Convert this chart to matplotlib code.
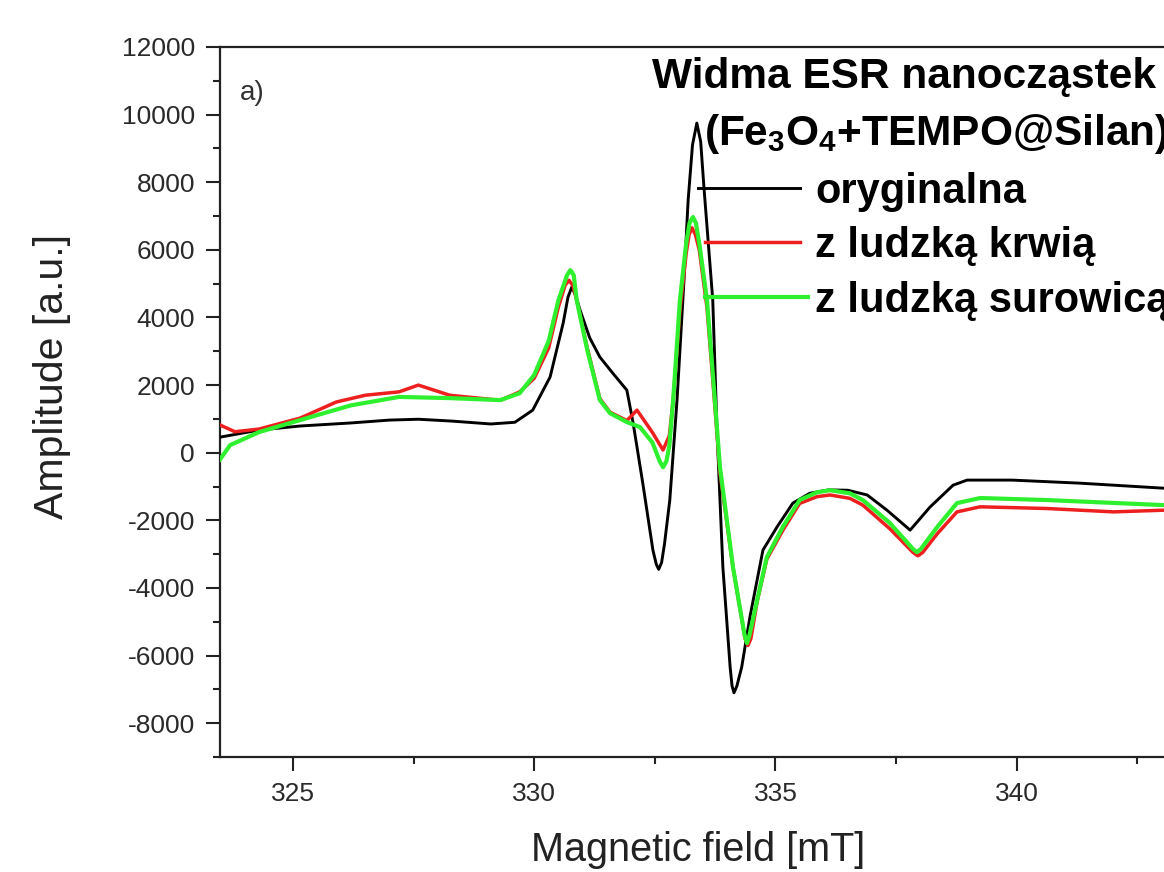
import matplotlib
matplotlib.use("Agg")
import matplotlib.pyplot as plt
from matplotlib.ticker import MultipleLocator

# ---------------- data ----------------
field_black = [323.49, 324.3, 325.15, 326.2, 327.0, 327.6, 328.3, 329.1, 329.6, 329.97,
               330.33, 330.6, 330.7, 330.78, 330.86, 330.95, 331.15, 331.36, 331.63, 331.92,
               332.05, 332.25, 332.46, 332.53, 332.58, 332.64, 332.7, 332.81, 332.96, 333.1,
               333.19, 333.28, 333.37, 333.45, 333.52, 333.7, 333.79, 333.91, 334.06, 334.1,
               334.14, 334.2, 334.3, 334.47, 334.74, 335.03, 335.36, 335.71, 336.1, 336.5,
               336.9, 337.31, 337.79, 338.2, 338.68, 338.97, 339.9, 341.3, 343.05]
amp_black = [460, 670, 790, 880, 965, 990, 935, 850, 900, 1260,
             2240, 3830, 4600, 4900, 4650, 4220, 3400, 2830, 2350, 1850,
             880, -900, -2880, -3300, -3450, -3250, -2700, -1400, 1560, 5000,
             7470, 9100, 9750, 9200, 7800, 4520, 580, -3390, -6340, -6900,
             -7100, -6900, -6340, -4860, -2880, -2200, -1490, -1200, -1100, -1110,
             -1250, -1700, -2290, -1610, -960, -810, -810, -900, -1050]

field_red = [323.49, 323.8, 324.3, 325.15, 325.9, 326.5, 327.2, 327.6, 328.25, 329.3,
             329.7, 330.0, 330.3, 330.5, 330.64, 330.72, 330.8, 330.88, 331.1, 331.36,
             331.57, 331.92, 332.13, 332.45, 332.67, 332.8, 332.88, 333.02, 333.15, 333.21,
             333.27, 333.34, 333.42, 333.58, 333.72, 333.85, 334.12, 334.37, 334.43, 334.49,
             334.62, 334.82, 335.15, 335.5, 335.86, 336.13, 336.54, 336.81, 337.37, 337.85,
             337.95, 338.05, 338.35, 338.76, 339.24, 340.62, 342.0, 343.05]
amp_red = [820, 620, 700, 1024, 1500, 1700, 1800, 2000, 1700, 1550,
           1800, 2200, 3100, 4300, 4950, 5100, 4950, 4520, 3100, 1600,
           1200, 950, 1260, 600, 80, 500, 1560, 4200, 5900, 6450,
           6650, 6450, 6000, 4300, 1800, -600, -3400, -5500, -5700, -5500,
           -4400, -3150, -2300, -1500, -1300, -1250, -1350, -1550, -2250, -2950,
           -3050, -2950, -2400, -1750, -1600, -1650, -1750, -1700]

field_green = [323.49, 323.7, 324.3, 325.15, 326.2, 327.2, 328.25, 329.3, 329.7, 330.0,
               330.3, 330.5, 330.68, 330.75, 330.82, 330.88, 331.1, 331.36, 331.57, 331.92,
               332.19, 332.45, 332.6, 332.67, 332.74, 332.8, 332.88, 333.02, 333.15, 333.22,
               333.29, 333.35, 333.42, 333.58, 333.72, 333.85, 334.12, 334.36, 334.41, 334.46,
               334.62, 334.82, 335.15, 335.5, 335.86, 336.13, 336.54, 336.81, 337.37, 337.85,
               337.93, 338.01, 338.35, 338.76, 339.24, 340.62, 343.05]
amp_green = [-200, 225, 610, 965, 1400, 1650, 1615, 1556, 1760, 2300,
             3300, 4500, 5250, 5400, 5250, 4520, 3035, 1560, 1170, 905,
             760, 300, -250, -430, -250, 200, 1560, 4520, 6200, 6800,
             6970, 6800, 6200, 4520, 2000, -430, -3390, -5400, -5630, -5400,
             -4360, -3090, -2200, -1400, -1170, -1110, -1200, -1400, -2080, -2850,
             -2940, -2850, -2200, -1490, -1340, -1400, -1550]

series_labels = ["oryginalna", "z ludzką krwią", "z ludzką surowicą"]
title_lines = ["Widma ESR nanocząstek", "(Fe$_3$O$_4$+TEMPO@Silan)"]
x_ticks = [325, 330, 335, 340]
y_ticks = [-8000, -6000, -4000, -2000, 0, 2000, 4000, 6000, 8000, 10000, 12000]

# ---------------- style ----------------
plt.rcParams['font.family'] = ['Liberation Sans', 'DejaVu Sans']
plt.rcParams['axes.unicode_minus'] = False
plt.rcParams['mathtext.fontset'] = 'custom'
plt.rcParams['mathtext.rm'] = 'Liberation Sans:bold'
plt.rcParams['mathtext.it'] = 'Liberation Sans:bold'
plt.rcParams['mathtext.bf'] = 'Liberation Sans:bold'

W, H = 1164, 872
fig = plt.figure(figsize=(W / 100, H / 100), dpi=100)

def fx(px):
    return px / W

def fy(py):
    return 1 - py / H

ax_left, ax_top, ax_bottom = 220, 47, 757
ax = fig.add_axes([fx(ax_left), fy(ax_bottom), 1 - fx(ax_left), (ax_bottom - ax_top) / H])

colors = ['#000000', '#ee1f1f', '#2ef02e']
lws = [2.1, 2.5, 3.0]
ax.plot(field_black, amp_black, color=colors[0], lw=lws[0], zorder=3)
ax.plot(field_red, amp_red, color=colors[1], lw=lws[1], zorder=4)
ax.plot(field_green, amp_green, color=colors[2], lw=lws[2], zorder=5)

ax.set_xlim(323.49, 343.05)
ax.set_ylim(-9000, 12000)
ax.set_xticks(x_ticks)
ax.set_yticks(y_ticks)
ax.xaxis.set_minor_locator(MultipleLocator(2.5))
ax.yaxis.set_minor_locator(MultipleLocator(1000))

for side in ['left', 'bottom', 'top']:
    ax.spines[side].set_linewidth(1.6)
    ax.spines[side].set_color('#222222')
ax.spines['right'].set_visible(False)

ax.tick_params(axis='both', which='major', direction='out', length=10, width=1.5,
               labelsize=19, labelcolor='#2a2a2a', color='#222222', pad=8,
               top=False, right=False)
ax.tick_params(axis='both', which='minor', direction='out', length=5, width=1.5,
               color='#222222', top=False, right=False)

ax.set_xlabel("Magnetic field [mT]", fontsize=28.5, color='#222222')
ax.xaxis.label.set_va('baseline')
ax.xaxis.set_label_coords((698 - ax_left) / (W - ax_left), (ax_bottom - 861) / (ax_bottom - ax_top))
ax.set_ylabel("Amplitude [a.u.]", fontsize=29.5, color='#222222')
ax.yaxis.label.set_va('baseline')
ax.yaxis.set_label_coords((63 - ax_left) / (W - ax_left), (ax_bottom - 376) / (ax_bottom - ax_top))

# panel label
fig.text(fx(240), fy(100), "a)", fontsize=20, color='#333333', va='baseline', ha='left')

# title inside plot
fig.text(fx(652), fy(88), title_lines[0], fontsize=30.5, fontweight='bold', va='baseline', ha='left')
fig.text(fx(704), fy(145), title_lines[1], fontsize=30.5, fontweight='bold', va='baseline', ha='left')

# legend drawn manually
leg_y = [188, 242, 297]
leg_x0 = [698, 705, 705]
leg_x1 = [800, 800, 808]
leg_text_y = [203, 257, 312]
for i in range(3):
    fig.add_artist(plt.Line2D([fx(leg_x0[i]), fx(leg_x1[i])], [fy(leg_y[i]), fy(leg_y[i])],
                              transform=fig.transFigure, color=colors[i], lw=lws[i], zorder=6))
    fig.text(fx(815), fy(leg_text_y[i]), series_labels[i], fontsize=30, fontweight='bold',
             va='baseline', ha='left')

fig.savefig("out.png", dpi=100)
